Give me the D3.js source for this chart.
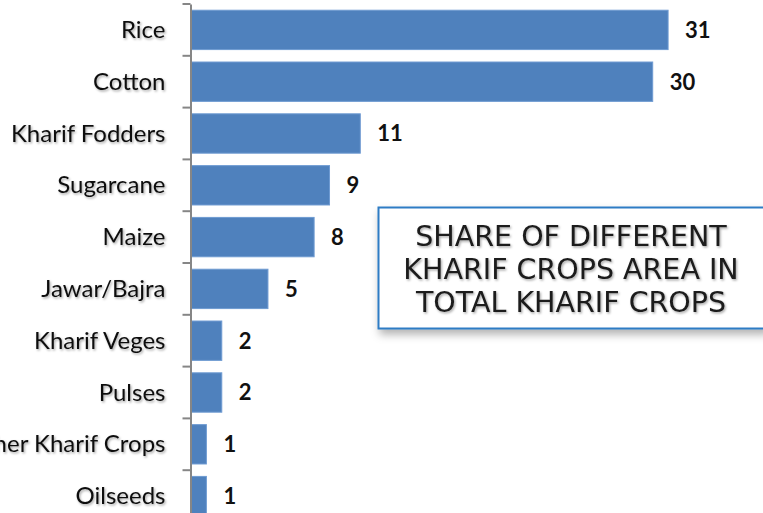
<!DOCTYPE html>
<html lang="en">
  <head>
    <meta charset="utf-8">
    <title>Kharif crops share</title>
    <script src="https://cdn.jsdelivr.net/npm/d3@7"></script>
    <style>
    body{margin:0;background:#fff;}
    svg{display:block;}
    .cat text{
      font-family:Lato,"Open Sans",sans-serif;
      font-size:24px;
      fill:#111;
    }
    .val{
      font-family:Lato,"Open Sans",sans-serif;
      font-weight:bold;
      font-size:22px;
      fill:#111;
    }
    .title{
      font-family:"DejaVu Sans",sans-serif;
      font-size:28.5px;
      fill:#1a1a1a;
    }
    </style>
  </head>
  <body>
    <svg></svg>
    <script>
      var crops=["Rice","Cotton","Kharif Fodders","Sugarcane","Maize","Jawar/Bajra",
                 "Kharif Veges","Pulses","Other Kharif Crops","Oilseeds"];
      var shares=[31,30,11,9,8,5,2,2,1,1];
      var titleLines=["SHARE OF DIFFERENT","KHARIF CROPS AREA IN","TOTAL KHARIF CROPS"];

      var width=763,height=513;
      var data=crops.map(function(c,i){return {crop:c,value:shares[i]};});

      var svg=d3.select("svg").attr("width",width).attr("height",height);

      var defs=svg.append("defs");
      defs.append("filter").attr("id","tshadow")
          .attr("x","-10%").attr("y","-20%").attr("width","120%").attr("height","150%")
          .append("feDropShadow").attr("dx",1.2).attr("dy",1.5)
          .attr("stdDeviation",1).attr("flood-color","#000").attr("flood-opacity",0.35);
      defs.append("filter").attr("id","bshadow")
          .attr("x","-10%").attr("y","-20%").attr("width","130%").attr("height","150%")
          .append("feDropShadow").attr("dx",2).attr("dy",5)
          .attr("stdDeviation",4).attr("flood-color","#000").attr("flood-opacity",0.3);

      var xscale=d3.scaleLinear().domain([0,36]).range([191,191+36*15.39]);
      var yscale=d3.scaleBand().domain(crops).range([4,522])
                   .paddingInner(0.24).paddingOuter(0.12);

      // bars
      svg.selectAll("rect.bar")
         .data(data)
         .enter()
         .append("rect")
         .attr("class","bar")
         .attr("x",xscale(0))
         .attr("y",function(d){return yscale(d.crop);})
         .attr("width",function(d){return xscale(d.value)-xscale(0);})
         .attr("height",yscale.bandwidth())
         .attr("fill","#4F81BD")
         .attr("stroke","#6F9BD2")
         .attr("stroke-width",1);

      // value labels
      svg.selectAll("text.val")
         .data(data)
         .enter()
         .append("text")
         .attr("class","val")
         .attr("x",function(d){return xscale(d.value)+17;})
         .attr("y",function(d){return yscale(d.crop)+yscale.bandwidth()/2;})
         .attr("dy","0.36em")
         .text(function(d){return d.value;});

      // category axis, ticks between categories like the original
      var yAxis=d3.axisLeft(yscale).tickSize(0).tickPadding(25);
      var g=svg.append("g")
         .attr("class","cat")
         .attr("transform","translate(190.5,0)")
         .call(yAxis);
      g.select(".domain").attr("stroke","#868686").attr("stroke-width",2);
      g.selectAll("text").attr("filter","url(#tshadow)").attr("dy","0.34em");
      g.selectAll("line.sep")
       .data(d3.range(crops.length+1))
       .enter()
       .append("line")
       .attr("class","sep")
       .attr("x1",-8).attr("x2",0)
       .attr("y1",function(i){return yscale.range()[0]+i*yscale.step();})
       .attr("y2",function(i){return yscale.range()[0]+i*yscale.step();})
       .attr("stroke","#868686").attr("stroke-width",2);

      // title box
      var box=svg.append("g");
      box.append("rect")
         .attr("x",378.5).attr("y",207.5).attr("width",388).attr("height",121)
         .attr("fill","#fff").attr("stroke","#2F7BC4").attr("stroke-width",2)
         .attr("filter","url(#bshadow)");
      box.selectAll("text")
         .data(titleLines)
         .enter()
         .append("text")
         .attr("class","title")
         .attr("x",571)
         .attr("y",function(d,i){return 246+i*33;})
         .attr("text-anchor","middle")
         .attr("filter","url(#tshadow)")
         .text(function(d){return d;});
    </script>
  </body>
</html>
